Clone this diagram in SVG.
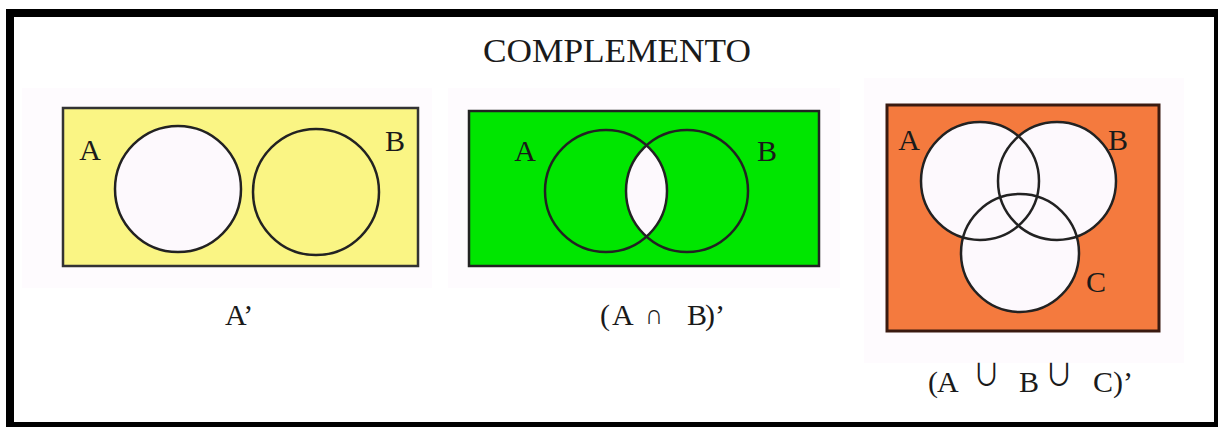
<svg xmlns="http://www.w3.org/2000/svg" width="1218" height="427" viewBox="0 0 1218 427">
<style>
.t{font-family:"Liberation Serif","Times New Roman",serif;fill:#1a1a1a}
.lbl{font-size:30px}
.sym{font-family:"DejaVu Sans","Liberation Serif",serif;font-weight:200;fill:#1a1a1a}
.sym2{font-family:"Noto Sans CJK JP","DejaVu Sans",sans-serif;font-weight:400;fill:#1a1a1a}
.ln{fill:none;stroke:#222;stroke-width:2.5}
.wh{fill:#fdf9fd}
.bg{fill:#fefbfe}
</style>
<defs>
<clipPath id="clipGA"><circle cx="606" cy="191" r="61"/></clipPath>
</defs>
<rect x="0" y="0" width="1218" height="427" fill="#ffffff"/>
<rect x="10" y="13" width="1208" height="413" fill="#ffffff" stroke="#000" stroke-width="8"/>
<text id="title" class="t" x="483" y="62" font-size="33" textLength="268" lengthAdjust="spacingAndGlyphs">COMPLEMENTO</text>

<g id="panel-yellow">
<rect class="bg" x="22" y="88" width="410" height="200"/>
<rect x="63" y="108" width="355" height="158" fill="#faf584" stroke="#333" stroke-width="2.5"/>
<circle class="wh" cx="178" cy="189" r="63"/>
<circle class="ln" cx="178" cy="189" r="63"/>
<circle class="ln" cx="316" cy="192" r="63"/>
<text class="t lbl" x="90" y="160" text-anchor="middle">A</text>
<text class="t lbl" x="395" y="151" text-anchor="middle">B</text>
<text class="t lbl" x="225" y="325">A’</text>
</g>

<g id="panel-green">
<rect class="bg" x="448" y="88" width="392" height="200"/>
<rect x="469" y="111" width="350" height="155" fill="#00e600" stroke="#222" stroke-width="2.5"/>
<circle class="wh" cx="687" cy="191" r="61" clip-path="url(#clipGA)"/>
<circle class="ln" cx="606" cy="191" r="61"/>
<circle class="ln" cx="687" cy="191" r="61"/>
<text class="t lbl" x="525" y="161" text-anchor="middle">A</text>
<text class="t lbl" x="767" y="161" text-anchor="middle">B</text>
<text class="t lbl" y="325"><tspan x="600">(</tspan><tspan x="612">A</tspan><tspan x="687">B</tspan><tspan x="705">)’</tspan></text>
<text class="sym" x="645" y="324" font-size="28" textLength="18" lengthAdjust="spacingAndGlyphs">∩</text>
</g>

<g id="panel-orange">
<rect class="bg" x="864" y="78" width="320" height="285"/>
<rect x="887" y="105" width="272" height="226" fill="#f47a3e" stroke="#3a1a10" stroke-width="3"/>
<circle class="wh" cx="980" cy="181" r="59"/>
<circle class="wh" cx="1057" cy="181" r="59"/>
<circle class="wh" cx="1020" cy="253" r="59"/>
<circle class="ln" cx="980" cy="181" r="59"/>
<circle class="ln" cx="1057" cy="181" r="59"/>
<circle class="ln" cx="1020" cy="253" r="59"/>
<text class="t lbl" x="909" y="150" text-anchor="middle">A</text>
<text class="t lbl" x="1118" y="150" text-anchor="middle">B</text>
<text class="t lbl" x="1096" y="292" text-anchor="middle">C</text>
<text class="t lbl" y="392"><tspan x="928">(</tspan><tspan x="937">A</tspan><tspan x="1019">B</tspan><tspan x="1093">C)’</tspan></text>
<text class="sym2" x="973" y="385" font-size="30" textLength="27" lengthAdjust="spacingAndGlyphs">∪</text>
<text class="sym2" x="1045" y="385" font-size="30" textLength="28" lengthAdjust="spacingAndGlyphs">∪</text>
</g>
</svg>
